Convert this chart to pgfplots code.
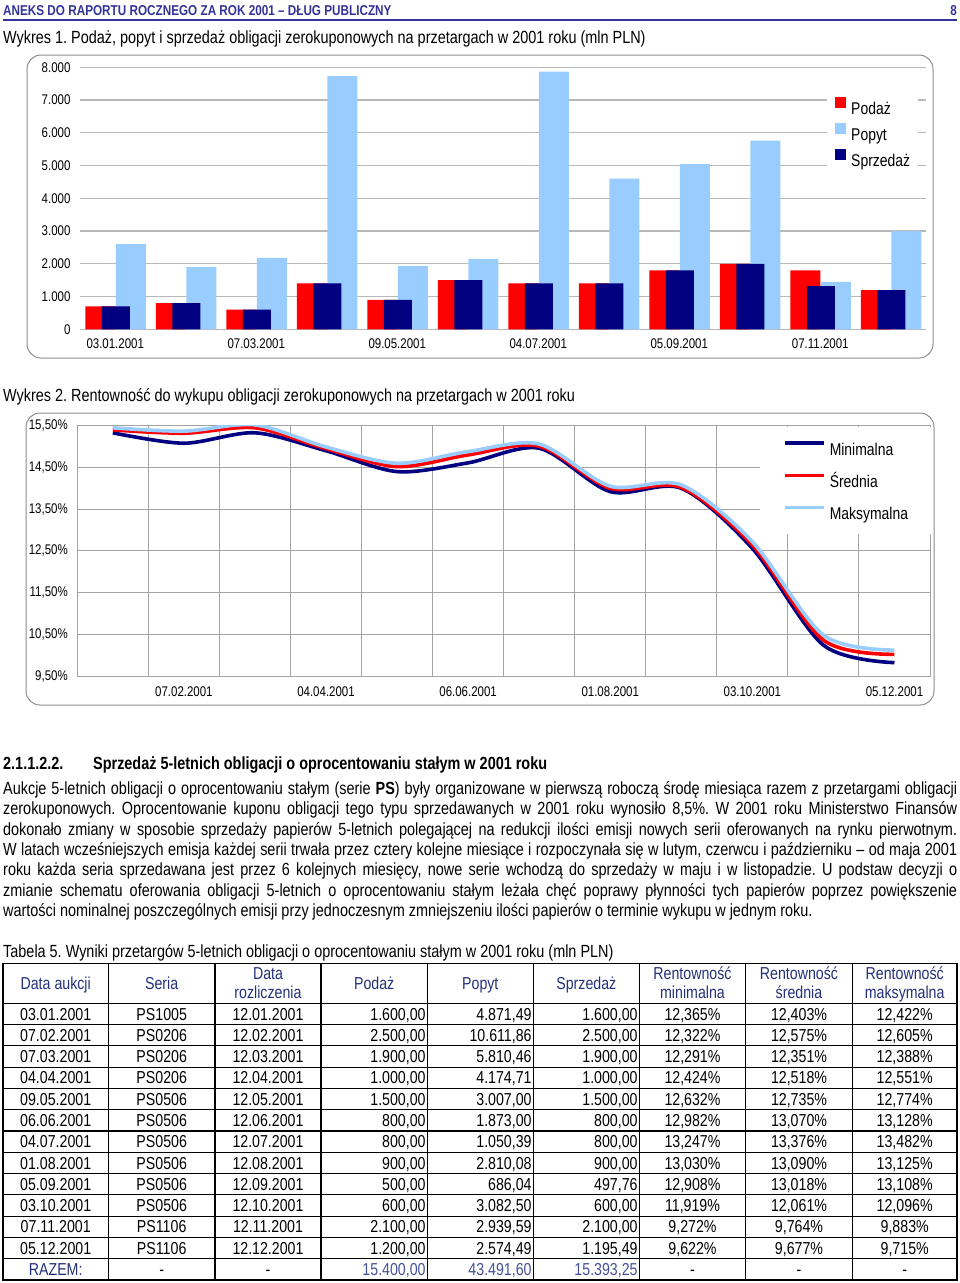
\documentclass[border=0pt]{standalone}
\usepackage{fontspec}
\setmainfont{Liberation Sans}[FakeStretch=0.82]
\usepackage{pgfplots}
\usepackage{pgfplotstable}
\pgfplotsset{compat=1.18}

\definecolor{podaz}{HTML}{FF0000}
\definecolor{popyt}{HTML}{99CCFF}
\definecolor{sprz}{HTML}{000080}
\definecolor{hdrblue}{HTML}{333399}
\definecolor{tblblue}{HTML}{24307A}
\definecolor{sumblue}{HTML}{44509A}
\definecolor{gridA}{HTML}{B8B8B8}
\definecolor{gridB}{HTML}{A4A4A4}
\definecolor{framegray}{HTML}{8C8C8C}

\newcommand\bodyfont{\fontsize{17.6}{20.3}\selectfont}
\newcommand\tabfont{\fontsize{17.3}{20}\selectfont}

% Wykres 1: podaz, popyt, sprzedaz (mln PLN)
\pgfplotstableread{
x podaz popyt sprzedaz
0 700 2600 700
1 800 1910 800
2 600 2180 600
3 1400 7730 1400
4 900 1930 900
5 1500 2150 1500
6 1400 7870 1400
7 1400 4600 1400
8 1800 5040 1800
9 2000 5760 2000
10 1800 1450 1320
11 1200 3000 1200
}\wykresA

% Wykres 2: rentownosc (%)
\pgfplotstableread{
x min sr max
0 15.33 15.40 15.45
1 15.08 15.32 15.37
2 15.33 15.45 15.52
3 14.90 14.95 14.99
4 14.40 14.52 14.60
5 14.61 14.80 14.88
6 14.96 15.01 15.06
7 13.92 14.00 14.05
8 14.00 14.02 14.08
9 12.56 12.64 12.72
10 10.24 10.36 10.48
11 9.82 10.02 10.12
}\wykresB

\tikzset{
  tc/.style={anchor=base, inner sep=0pt, font=\tabfont},
  tr/.style={anchor=base east, inner sep=0pt, font=\tabfont},
  txt/.style={anchor=base west, inner sep=0pt, font=\bodyfont},
}

\newcount\rowno
\newcommand\trow[9]{%
  \pgfmathsetmacro\by{1003.3+21.285*\the\rowno+16.8}%
  \node[tc] at (55.7,\by) {#1};
  \node[tc] at (161.7,\by) {#2};
  \node[tc] at (268,\by) {#3};
  \node[tr] at (425.8,\by) {#4};
  \node[tr] at (531.8,\by) {#5};
  \node[tr] at (637.8,\by) {#6};
  \node[tc] at (692.5,\by) {#7};
  \node[tc] at (799,\by) {#8};
  \node[tc] at (904.7,\by) {#9};
  \global\advance\rowno by 1\relax}

\frenchspacing
\begin{document}
\begin{tikzpicture}
\begin{scope}[x=1pt,y=-1pt]
\useasboundingbox (0,0) rectangle (960,1283);

% naglowek strony
\node[anchor=base west, inner sep=0pt, font=\fontsize{14.3}{16}\selectfont\bfseries, text=hdrblue]
  at (3,15.5) {ANEKS DO RAPORTU ROCZNEGO ZA ROK 2001 – DŁUG PUBLICZNY};
\node[anchor=base east, inner sep=0pt, font=\fontsize{14.3}{16}\selectfont\bfseries, text=hdrblue]
  at (957,15.5) {8};
\draw[hdrblue, line width=1.2pt] (3,20) -- (957,20);

\node[txt] at (3,43.5) {Wykres 1. Podaż, popyt i sprzedaż obligacji zerokuponowych na przetargach w 2001 roku (mln PLN)};
\draw[framegray, line width=1pt, rounded corners=14pt] (27,55) rectangle (933,358);

\node[txt] at (3,401.5) {Wykres 2. Rentowność do wykupu obligacji zerokuponowych na przetargach w 2001 roku};
\draw[framegray, line width=1pt, rounded corners=14pt] (26,413) rectangle (934,705);

% rozdzial
\node[txt, font=\bodyfont\bfseries] at (3,769.5) {2.1.1.2.2.};
\node[txt, font=\bodyfont\bfseries] at (93,769.5) {Sprzedaż 5-letnich obligacji o oprocentowaniu stałym w 2001 roku};

\node[txt] at (3,794.5) {\makebox[954pt][s]{Aukcje 5-letnich obligacji o oprocentowaniu stałym (serie \textbf{PS}) były organizowane w pierwszą roboczą środę miesiąca razem z przetargami obligacji}};
\node[txt] at (3,814.8) {\makebox[954pt][s]{zerokuponowych. Oprocentowanie kuponu obligacji tego typu sprzedawanych w 2001 roku wynosiło 8,5\%. W 2001 roku Ministerstwo Finansów}};
\node[txt] at (3,835.1) {\makebox[954pt][s]{dokonało zmiany w sposobie sprzedaży papierów 5-letnich polegającej na redukcji ilości emisji nowych serii oferowanych na rynku pierwotnym.}};
\node[txt] at (3,855.4) {\makebox[954pt][s]{W latach wcześniejszych emisja każdej serii trwała przez cztery kolejne miesiące i rozpoczynała się w lutym, czerwcu i październiku – od maja 2001}};
\node[txt] at (3,875.7) {\makebox[954pt][s]{roku każda seria sprzedawana jest przez 6 kolejnych miesięcy, nowe serie wchodzą do sprzedaży w maju i w listopadzie. U podstaw decyzji o}};
\node[txt] at (3,896.0) {\makebox[954pt][s]{zmianie schematu oferowania obligacji 5-letnich o oprocentowaniu stałym leżała chęć poprawy płynności tych papierów poprzez powiększenie}};
\node[txt] at (3,916.3) {wartości nominalnej poszczególnych emisji przy jednoczesnym zmniejszeniu ilości papierów o terminie wykupu w jednym roku.};

\node[txt] at (3,957.5) {Tabela 5. Wyniki przetargów 5-letnich obligacji o oprocentowaniu stałym w 2001 roku (mln PLN)};

% tabela
\draw[black, line width=1.2pt] (3,963.3) rectangle (957,1280);
\foreach \cx in {108.3,215,321,427.3,533.3,639.3,745.7,852.3}
  \draw[black, line width=1.2pt] (\cx,963.3) -- (\cx,1280);
\draw[black, line width=1.2pt] (3,1003.3) -- (957,1003.3);
\foreach \r in {1,...,12}
  \draw[black, line width=1.2pt] (3,{1003.3+21.285*\r}) -- (957,{1003.3+21.285*\r});

\begin{scope}[every node/.append style={text=tblblue}]
\node[tc] at (55.7,989) {Data aukcji};
\node[tc] at (161.7,989) {Seria};
\node[tc] at (268,979) {Data};
\node[tc] at (268,998.5) {rozliczenia};
\node[tc] at (374.2,989) {Podaż};
\node[tc] at (480.3,989) {Popyt};
\node[tc] at (586.3,989) {Sprzedaż};
\node[tc] at (692.5,979) {Rentowność};
\node[tc] at (692.5,998.5) {minimalna};
\node[tc] at (799,979) {Rentowność};
\node[tc] at (799,998.5) {średnia};
\node[tc] at (904.7,979) {Rentowność};
\node[tc] at (904.7,998.5) {maksymalna};
\end{scope}

\trow{03.01.2001}{PS1005}{12.01.2001}{1.600,00}{4.871,49}{1.600,00}{12,365\%}{12,403\%}{12,422\%}
\trow{07.02.2001}{PS0206}{12.02.2001}{2.500,00}{10.611,86}{2.500,00}{12,322\%}{12,575\%}{12,605\%}
\trow{07.03.2001}{PS0206}{12.03.2001}{1.900,00}{5.810,46}{1.900,00}{12,291\%}{12,351\%}{12,388\%}
\trow{04.04.2001}{PS0206}{12.04.2001}{1.000,00}{4.174,71}{1.000,00}{12,424\%}{12,518\%}{12,551\%}
\trow{09.05.2001}{PS0506}{12.05.2001}{1.500,00}{3.007,00}{1.500,00}{12,632\%}{12,735\%}{12,774\%}
\trow{06.06.2001}{PS0506}{12.06.2001}{800,00}{1.873,00}{800,00}{12,982\%}{13,070\%}{13,128\%}
\trow{04.07.2001}{PS0506}{12.07.2001}{800,00}{1.050,39}{800,00}{13,247\%}{13,376\%}{13,482\%}
\trow{01.08.2001}{PS0506}{12.08.2001}{900,00}{2.810,08}{900,00}{13,030\%}{13,090\%}{13,125\%}
\trow{05.09.2001}{PS0506}{12.09.2001}{500,00}{686,04}{497,76}{12,908\%}{13,018\%}{13,108\%}
\trow{03.10.2001}{PS0506}{12.10.2001}{600,00}{3.082,50}{600,00}{11,919\%}{12,061\%}{12,096\%}
\trow{07.11.2001}{PS1106}{12.11.2001}{2.100,00}{2.939,59}{2.100,00}{9,272\%}{9,764\%}{9,883\%}
\trow{05.12.2001}{PS1106}{12.12.2001}{1.200,00}{2.574,49}{1.195,49}{9,622\%}{9,677\%}{9,715\%}
\trow{\textcolor{tblblue}{RAZEM:}}{-}{-}{\textcolor{sumblue}{15.400,00}}{\textcolor{sumblue}{43.491,60}}{\textcolor{sumblue}{15.393,25}}{-}{-}{-}
\end{scope}

% Wykres 1
\begin{axis}[
  at={(80pt,-329.3pt)}, anchor=south west,
  scale only axis, width=846pt, height=262pt,
  xmin=-0.5, xmax=11.5, ymin=0, ymax=8000,
  ytick={0,1000,...,8000},
  scaled y ticks=false,
  /pgf/number format/1000 sep={.},
  /pgf/number format/assume math mode=true,
  xtick={0,2,...,10},
  xticklabels={03.01.2001,07.03.2001,09.05.2001,04.07.2001,05.09.2001,07.11.2001},
  ymajorgrids, grid style={draw=gridA, line width=1.2pt},
  axis line style={draw=none},
  major tick length=0pt,
  tick label style={font=\fontsize{14}{16}\selectfont},
  yticklabel style={xshift=-6pt},
  xticklabel style={yshift=-6pt},
  legend cell align=left,
  legend style={at={(axis description cs:0.883,0.8943)}, anchor=north west,
    draw=none, fill=white, inner xsep=8pt, inner ysep=2pt, row sep=9pt,
    font=\fontsize{17}{20}\selectfont,
    nodes={inner sep=0pt, text height=12pt, text depth=0pt}},
  legend image code/.code={\fill[#1] (0pt,0pt) rectangle (11pt,11pt); \path (16pt,0pt);},
]
\addplot[ybar, bar width=30pt, bar shift=-15pt, fill=podaz, draw=none] table[x=x, y=podaz] {\wykresA};
\addplot[ybar, bar width=30pt, bar shift=15.5pt, fill=popyt, draw=none] table[x=x, y=popyt] {\wykresA};
\addplot[ybar, bar width=28pt, bar shift=0.5pt, fill=sprz, draw=none] table[x=x, y=sprzedaz] {\wykresA};
\legend{Podaż, Popyt, Sprzedaż}
\end{axis}

% Wykres 2
\begin{axis}[
  at={(77.3pt,-676pt)}, anchor=south west,
  scale only axis, width=852.7pt, height=250.3pt,
  xmin=-0.5, xmax=11.5, ymin=9.5, ymax=15.5,
  ytick={9.5,10.5,...,15.5},
  yticklabel={\pgfmathprintnumber[fixed,fixed zerofill,precision=2,use comma,assume math mode=true]{\tick}\%},
  xtick={1,3,...,11},
  xticklabels={07.02.2001,04.04.2001,06.06.2001,01.08.2001,03.10.2001,05.12.2001},
  minor xtick={-0.5,0.5,...,11.5},
  xminorgrids, ymajorgrids,
  grid style={draw=gridB, line width=1pt},
  minor grid style={draw=gridB, line width=1pt},
  axis line style={draw=gridB, line width=1pt},
  major tick length=0pt, minor tick length=0pt,
  tick label style={font=\fontsize{14}{16}\selectfont},
  yticklabel style={xshift=-6pt},
  xticklabel style={yshift=-7pt},
  legend cell align=left,
  legend style={at={(axis description cs:0.8006,0.9948)}, anchor=north west,
    draw=none, fill=white, inner xsep=23pt, inner ysep=14pt, row sep=18.5pt,
    font=\fontsize{17}{20}\selectfont,
    nodes={inner sep=0pt, text height=12pt, text depth=0pt}},
  legend image code/.code={\draw[#1] (0pt,6pt) -- (39pt,6pt); \path (43pt,0pt);},
]
\addplot[sprz, line width=3.6pt, smooth] table[x=x, y=min] {\wykresB};
\addplot[podaz, line width=3.6pt, smooth] table[x=x, y=sr] {\wykresB};
\addplot[popyt, line width=3.6pt, smooth] table[x=x, y=max] {\wykresB};
\legend{Minimalna, Średnia, Maksymalna}
\end{axis}
\end{tikzpicture}
\end{document}
